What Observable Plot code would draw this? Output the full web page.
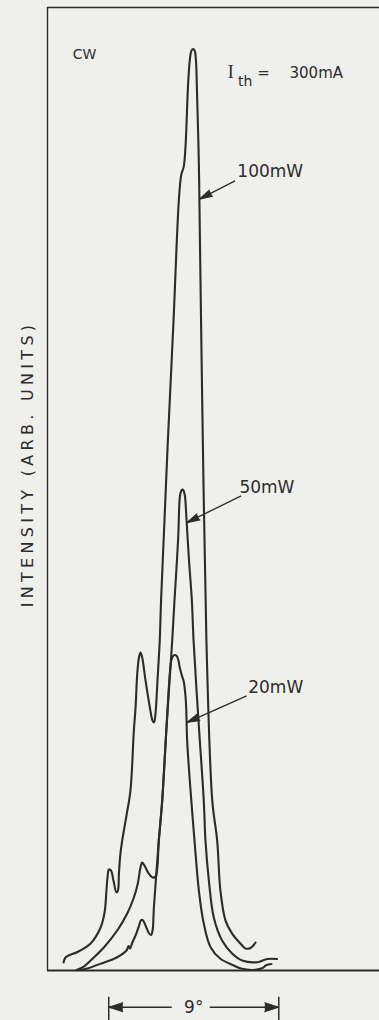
<!DOCTYPE html>
<html>
<head>
<meta charset="utf-8">
<script src="https://cdn.jsdelivr.net/npm/d3@7"></script>
<script src="https://cdn.jsdelivr.net/npm/@observablehq/plot@0.6"></script>
<style>
  html, body { margin: 0; padding: 0; background: #efefec; }
  #chart { width: 379px; height: 1020px; }
</style>
</head>
<body>
<div id="chart"></div>
<script>
// Far-field intensity profiles of the laser in CW operation (Ith = 300 mA)
// angle in degrees from the main lobe, intensity in arbitrary units

const angle100 = [-6.86,-6.76,-6.54,-6.12,-5.43,-4.90,-4.69,-4.59,-4.53,-4.46,-4.35,-4.22,-4.06,-3.98,-3.93,-3.85,-3.74,-3.53,-3.32,-3.14,-3.05,-2.96,-2.87,-2.79,-2.71,-2.52,-2.31,-2.15,-2.07,-1.99,-1.89,-1.77,-1.70,-1.52,-1.34,-1.04,-0.76,-0.63,-0.50,-0.41,-0.26,-0.17,-0.09,0,0.08,0.14,0.21,0.30,0.35,0.51,0.70,1.01,1.27,1.44,1.71,2.06,2.50,2.77,3.03,3.30];
const intensity100 = [0.87,1.41,1.68,2.01,2.93,4.67,6.29,8.68,10.2,10.96,10.85,9.76,8.46,8.68,10.52,12.69,14.32,16.82,19.53,26.04,28.53,32.22,33.96,34.50,34.07,31.46,28.75,27.12,26.91,27.99,31.46,35.80,40.14,48.82,57.50,70.52,83.54,86.36,87.23,89.29,96.56,98.95,99.82,100,99.82,98.95,94.72,87.56,80.29,57.50,35.80,18.44,14.10,8.68,5.42,4.01,2.93,2.39,2.44,3.04];

const angle50 = [-6.17,-5.79,-5.43,-4.73,-4.02,-3.49,-3.14,-2.93,-2.79,-2.70,-2.58,-2.35,-2.15,-1.99,-1.82,-1.64,-1.39,-1.11,-0.99,-0.80,-0.71,-0.65,-0.58,-0.51,-0.44,-0.35,-0.22,-0.07,0.02,0.28,0.56,0.65,0.83,1.09,1.53,2.06,2.59,3.39,3.92,4.44];
const intensity50 = [0.05,0.43,1.08,2.50,4.34,6.18,7.92,9.44,11.18,11.72,11.39,10.52,10.09,10.20,14.10,18.44,27.12,35.80,40.14,46.65,51.32,51.97,52.19,52.08,51.54,48.82,44.48,40.14,35.80,27.12,18.44,14.10,9.76,5.75,3.25,1.84,1.08,0.90,1.25,1.25];

const angle20 = [-5.96,-5.61,-4.90,-4.02,-3.53,-3.42,-3.34,-3.24,-3.05,-2.88,-2.75,-2.65,-2.52,-2.35,-2.23,-2.15,-2.08,-1.97,-1.82,-1.64,-1.39,-1.16,-1.08,-0.99,-0.87,-0.78,-0.71,-0.60,-0.50,-0.41,-0.37,-0.32,-0.14,0.07,0.30,0.56,0.92,1.44,2.15,2.59,3.30,3.67,3.88,4.14];
const intensity20 = [0.05,0.22,0.73,1.44,2.17,2.66,2.39,2.93,3.80,4.77,5.48,5.42,4.88,4.07,3.85,4.34,6.84,9.98,14.10,18.44,27.12,33.63,34.07,34.23,34.12,33.63,32.87,32.01,31.36,29.84,28.53,24.95,19.53,14.10,8.68,5.10,2.53,1.27,0.54,0.18,0.08,0.27,0.60,0.71];

// output power of each trace, and the level on its right flank where its callout points
const powers = ["100mW", "50mW", "20mW"];
const calloutLevels = [83.7, 48.6, 26.9];

// angular scale bar
const spanStart = -4.47;
const spanDegrees = 9;

const yLabel = "INTENSITY (ARB. UNITS)";

// ---- layout ----
const W = 379, H = 1020;
const margin = {top: 7, right: 0, bottom: 50, left: 47};
const xDomain = [-7.71, 9.86];
const yDomain = [0, 104.5];
const kx = (W - margin.left - margin.right) / (xDomain[1] - xDomain[0]); // px per degree
const ky = (H - margin.top - margin.bottom) / (yDomain[1] - yDomain[0]); // px per unit
const ink = "#2c2c2c";
const sans = "DejaVu Sans, Verdana, sans-serif";

const series = [[angle100, intensity100], [angle50, intensity50], [angle20, intensity20]];
const rows = series.flatMap(([a, v], s) => a.map((x, i) => ({power: powers[s], angle: x, intensity: v[i]})));

// angle where the falling (right) flank of a trace crosses a given level
function rightFlank(a, v, level) {
  const p = v.indexOf(d3.max(v));
  for (let i = p; i < v.length - 1; i++) {
    if (v[i] >= level && v[i + 1] <= level) {
      const t = (v[i] - level) / (v[i] - v[i + 1]);
      return a[i] + t * (a[i + 1] - a[i]);
    }
  }
  return a[p];
}

// callout geometry, offsets in pixels from the arrow tip
const calloutOffsets = [
  {tail: [35.7, -18.3], label: [38, -22.3]},
  {tail: [54.4, -26.7], label: [52.7, -30]},
  {tail: [60, -26.7], label: [61.6, -30]}
];
const callouts = series.map(([a, v], s) => {
  const level = calloutLevels[s];
  const x = rightFlank(a, v, level);
  const o = calloutOffsets[s];
  return {
    text: powers[s],
    x, y: level,
    tx: x + o.tail[0] / kx, ty: level - o.tail[1] / ky,
    lx: x + o.label[0] / kx, ly: level - o.label[1] / ky,
    rot: Math.atan2(-o.tail[0], o.tail[1]) * 180 / Math.PI
  };
});

// axis title sits 19.5 px left of the frame, centred on the trace area
const titleX = xDomain[0] - 19.5 / kx;
const titleY = yDomain[1] * 0.526;

// scale bar below the axis
const barY = -36.7 / ky;
const barMid = spanStart + spanDegrees / 2;
const barSegments = [
  {a: spanStart, b: barMid - 22 / kx},
  {a: barMid + 16 / kx, b: spanStart + spanDegrees}
];
const barHeads = [{x: spanStart, rot: -90}, {x: spanStart + spanDegrees, rot: 90}];

const chart = Plot.plot({
  width: W,
  height: H,
  marginTop: margin.top,
  marginRight: margin.right,
  marginBottom: margin.bottom,
  marginLeft: margin.left,
  x: {domain: xDomain, axis: null},
  y: {domain: yDomain, axis: null},
  style: {background: "transparent", color: ink, overflow: "visible"},
  marks: [
    // open frame: left, top and bottom edges
    Plot.ruleX([xDomain[0]], {y1: 0, y2: yDomain[1], stroke: ink, strokeWidth: 1.4}),
    Plot.ruleY([yDomain[1]], {stroke: ink, strokeWidth: 1.3}),
    Plot.ruleY([0], {stroke: ink, strokeWidth: 2}),

    // intensity traces
    Plot.line(rows, {x: "angle", y: "intensity", z: "power", stroke: ink, strokeWidth: 2.1, curve: "catmull-rom"}),

    // callouts
    Plot.link(callouts, {x1: "tx", y1: "ty", x2: "x", y2: "y", stroke: ink, strokeWidth: 1.3}),
    Plot.vector(callouts, {x: "x", y: "y", rotate: "rot", length: 13, r: 3.5, shape: "spike", anchor: "end",
      fill: ink, fillOpacity: 1, stroke: ink, strokeWidth: 1}),
    Plot.text(callouts, {x: "lx", y: "ly", text: "text", textAnchor: "start", lineAnchor: "bottom",
      fontSize: 17, fontFamily: sans, fill: ink}),

    // corner annotations
    Plot.text(["CW"], {frameAnchor: "top-left", dx: 25.2, dy: 51.3, textAnchor: "start", lineAnchor: "bottom",
      fontSize: 14, fontFamily: sans, fill: ink}),
    Plot.text(["I"], {frameAnchor: "top-left", dx: 180.2, dy: 70.3, textAnchor: "start", lineAnchor: "bottom",
      fontSize: 18, fontFamily: "Liberation Serif, serif", fill: ink}),
    Plot.text(["th"], {frameAnchor: "top-left", dx: 190.5, dy: 78, textAnchor: "start", lineAnchor: "bottom",
      fontSize: 14, fontFamily: sans, fill: ink}),
    Plot.text(["="], {frameAnchor: "top-left", dx: 216, dy: 70.5, textAnchor: "middle", lineAnchor: "bottom",
      fontSize: 15, fontFamily: sans, fill: ink}),
    Plot.text(["300mA"], {frameAnchor: "top-left", dx: 242, dy: 70.3, textAnchor: "start", lineAnchor: "bottom",
      fontSize: 15, fontFamily: sans, fill: ink}),

    // vertical axis title
    Plot.text([yLabel], {x: titleX, y: titleY, text: d => d, rotate: -90, textAnchor: "middle", lineAnchor: "middle",
      fontSize: 16, fontFamily: sans, fill: ink}),

    // angular scale bar
    Plot.ruleX([spanStart, spanStart + spanDegrees], {y1: -26.7 / ky, y2: -50 / ky, stroke: ink, strokeWidth: 1.5}),
    Plot.link(barSegments, {x1: "a", x2: "b", y1: barY, y2: barY, stroke: ink, strokeWidth: 1.4}),
    Plot.vector(barHeads, {x: "x", y: barY, rotate: "rot", length: 14, r: 4.5, shape: "spike", anchor: "end",
      fill: ink, fillOpacity: 1, stroke: ink, strokeWidth: 1}),
    Plot.text([`${spanDegrees}°`], {x: barMid, y: barY, text: d => d, textAnchor: "middle", lineAnchor: "middle",
      fontSize: 17, fontFamily: sans, fill: ink})
  ]
});

d3.select(chart).selectAll("text")
  .filter(function () { return this.textContent === yLabel; })
  .attr("letter-spacing", "4.3px");

document.getElementById("chart").appendChild(chart);
</script>
</body>
</html>
